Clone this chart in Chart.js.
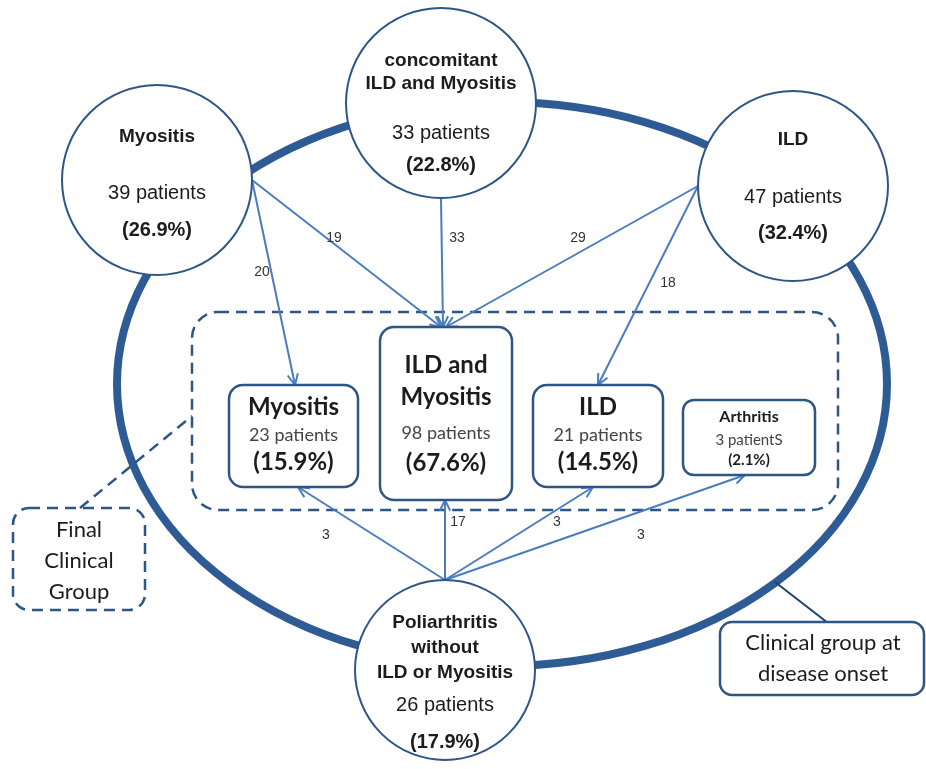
<!DOCTYPE html>
<html>
<head>
<meta charset="utf-8">
<script src="https://cdn.jsdelivr.net/npm/chart.js@4.4.1/dist/chart.umd.min.js"></script>
<style>
  html, body { margin: 0; padding: 0; background: #fff; }
  #wrap { width: 926px; height: 769px; }
</style>
</head>
<body>
<div id="wrap"><canvas id="myChart"></canvas></div>
<script>
// Clinical group at disease onset (circles)
const onsetGroups = ['Myositis', 'concomitant\nILD and Myositis', 'ILD', 'Poliarthritis\nwithout\nILD or Myositis'];
const onsetPatients = [39, 33, 47, 26];
const onsetPct = [26.9, 22.8, 32.4, 17.9];

// Final clinical group (boxes)
const finalGroups = ['Myositis', 'ILD and\nMyositis', 'ILD', 'Arthritis'];
const finalPatientLabels = ['23 patients', '98 patients', '21 patients', '3 patientS'];
const finalPct = [15.9, 67.6, 14.5, 2.1];

// Flows: onset group index -> final group index, number of patients
const flowFrom  = [0, 0, 1, 2, 2, 3, 3, 3, 3];
const flowTo    = [0, 1, 1, 1, 2, 0, 1, 2, 3];
const flowCount = [20, 19, 33, 29, 18, 3, 17, 3, 3];

const legendFinal = 'Final\nClinical\nGroup';
const legendOnset = 'Clinical group at\ndisease onset';

// ---- layout (in axis units, x 0..926, y 0..769 top-down) ----
const circleX = [157, 441, 793, 445];
const circleY = [180, 103, 186, 670];
const circleR = [95, 95, 95, 90];
const circleAnchor = ['right', 'bottom', 'left', 'top'];
const circleTextY = [[137, 193, 230], [61, 84, 133, 165], [140, 197, 233], [623, 648, 673, 705, 742]];

const boxRect = [[229, 385, 358, 487], [380, 327, 512, 500], [533, 385, 663, 487], [683, 400, 815, 475]];
const boxTextY = [[407, 435, 462], [365, 397, 433, 463], [407, 435, 462], [417, 440, 460]];

const flowLabelX = [262, 334, 457, 578, 668, 326, 458, 557, 641];
const flowLabelY = [272, 238, 238, 238, 283, 535, 522, 522, 535];
const flowEndX = [295, 441, 443, 446, 598, 298, 445, 593, 745];

const COL_DARK = '#2d5687';
const COL_ARROW = '#4a7cc0';
const COL_TEXT = '#1c1c1c';
const ARIAL = '"Liberation Sans", Arial, sans-serif';

function roundRect(ctx, x1, y1, x2, y2, r) {
    ctx.beginPath();
    ctx.moveTo(x1 + r, y1);
    ctx.arcTo(x2, y1, x2, y2, r);
    ctx.arcTo(x2, y2, x1, y2, r);
    ctx.arcTo(x1, y2, x1, y1, r);
    ctx.arcTo(x1, y1, x2, y1, r);
    ctx.closePath();
}

function anchorPoint(i) {
    const a = circleAnchor[i];
    if (a === 'right') return [circleX[i] + circleR[i], circleY[i]];
    if (a === 'left') return [circleX[i] - circleR[i], circleY[i]];
    if (a === 'bottom') return [circleX[i], circleY[i] + circleR[i]];
    return [circleX[i], circleY[i] - circleR[i]];
}

const diagram = {
    id: 'diagram',
    beforeDatasetsDraw(chart) {
        const { ctx, scales: { x, y } } = chart;
        const px = v => x.getPixelForValue(v);
        const py = v => y.getPixelForValue(v);
        ctx.save();

        // big onset ellipse
        ctx.strokeStyle = '#2f5b94';
        ctx.lineWidth = 8;
        ctx.beginPath();
        ctx.ellipse(px(502), py(384), px(887) - px(502), py(666) - py(384), 0, 0, Math.PI * 2);
        ctx.stroke();

        // connector for onset legend
        ctx.strokeStyle = '#1f3f6e';
        ctx.lineWidth = 2;
        ctx.beginPath();
        ctx.moveTo(px(775), py(582));
        ctx.lineTo(px(828), py(623));
        ctx.stroke();

        // dashed final-group frame + connector
        ctx.strokeStyle = COL_DARK;
        ctx.lineWidth = 2.5;
        ctx.setLineDash([11, 7]);
        roundRect(ctx, px(192), py(312), px(838), py(510), 26);
        ctx.stroke();
        ctx.beginPath();
        ctx.moveTo(px(80), py(508));
        ctx.lineTo(px(192), py(416));
        ctx.stroke();
        roundRect(ctx, px(13), py(508), px(145), py(610), 16);
        ctx.stroke();
        ctx.setLineDash([]);

        // flow arrows
        ctx.strokeStyle = COL_ARROW;
        ctx.lineWidth = 2;
        flowCount.forEach((n, k) => {
            const [sx, sy] = anchorPoint(flowFrom[k]);
            const b = boxRect[flowTo[k]];
            const ex = flowEndX[k];
            const ey = sy < b[1] ? b[1] : b[3];
            const x0 = px(sx), y0 = py(sy), x1 = px(ex), y1 = py(ey);
            ctx.beginPath();
            ctx.moveTo(x0, y0);
            ctx.lineTo(x1, y1);
            ctx.stroke();
            const ang = Math.atan2(y1 - y0, x1 - x0);
            const L = 12, w = 0.45;
            ctx.beginPath();
            ctx.moveTo(x1 - L * Math.cos(ang - w), y1 - L * Math.sin(ang - w));
            ctx.lineTo(x1, y1);
            ctx.lineTo(x1 - L * Math.cos(ang + w), y1 - L * Math.sin(ang + w));
            ctx.stroke();
        });

        // flow counts
        ctx.fillStyle = '#333';
        ctx.font = '14px ' + ARIAL;
        ctx.textAlign = 'center';
        ctx.textBaseline = 'middle';
        flowCount.forEach((n, k) => ctx.fillText(String(n), px(flowLabelX[k]), py(flowLabelY[k])));
        ctx.restore();
    },
    afterDatasetsDraw(chart) {
        const { ctx, scales: { x, y } } = chart;
        const px = v => x.getPixelForValue(v);
        const py = v => y.getPixelForValue(v);
        ctx.save();
        ctx.textAlign = 'center';
        ctx.textBaseline = 'middle';

        // circle texts
        onsetGroups.forEach((g, i) => {
            const lines = g.split('\n');
            const ys = circleTextY[i];
            ctx.fillStyle = COL_TEXT;
            ctx.font = 'bold 19px ' + ARIAL;
            lines.forEach((t, j) => ctx.fillText(t, px(circleX[i]), py(ys[j])));
            ctx.font = '20px ' + ARIAL;
            ctx.fillText(onsetPatients[i] + ' patients', px(circleX[i]), py(ys[lines.length]));
            ctx.font = 'bold 20px ' + ARIAL;
            ctx.fillText('(' + onsetPct[i].toFixed(1) + '%)', px(circleX[i]), py(ys[lines.length + 1]));
        });

        // final group boxes
        finalGroups.forEach((g, i) => {
            const b = boxRect[i];
            const small = i === 3;
            ctx.fillStyle = '#fff';
            ctx.strokeStyle = COL_DARK;
            ctx.lineWidth = 2.5;
            roundRect(ctx, px(b[0]), py(b[1]), px(b[2]), py(b[3]), small ? 11 : 14);
            ctx.fill();
            ctx.stroke();
            const cx = px((b[0] + b[2]) / 2);
            const ys = boxTextY[i];
            const lines = g.split('\n');
            ctx.fillStyle = COL_TEXT;
            ctx.font = small ? 'bold 16px Lato, sans-serif' : 'bold 24px Lato, sans-serif';
            lines.forEach((t, j) => ctx.fillText(t, cx, py(ys[j])));
            ctx.fillStyle = '#444';
            ctx.font = small ? '15px Lato, sans-serif' : '18px Lato, sans-serif';
            ctx.fillText(finalPatientLabels[i], cx, py(ys[lines.length]));
            ctx.fillStyle = COL_TEXT;
            ctx.font = small ? 'bold 15px Lato, sans-serif' : 'bold 24px Lato, sans-serif';
            ctx.fillText('(' + finalPct[i].toFixed(1) + '%)', cx, py(ys[lines.length + 1]));
        });

        // legend boxes
        ctx.fillStyle = '#fff';
        ctx.strokeStyle = COL_DARK;
        ctx.lineWidth = 2.5;
        roundRect(ctx, px(720), py(622), px(924), py(695), 12);
        ctx.fill();
        ctx.stroke();

        ctx.fillStyle = COL_TEXT;
        ctx.font = '22px Lato, sans-serif';
        legendFinal.split('\n').forEach((t, j) => ctx.fillText(t, px(79), py(530 + j * 31)));
        legendOnset.split('\n').forEach((t, j) => ctx.fillText(t, px(823), py(643 + j * 31)));
        ctx.restore();
    }
};

const ctx = document.getElementById('myChart');

const myChart = new Chart(ctx, {
    type: 'bubble',
    data: {
        datasets: [{
            label: 'Clinical group at disease onset',
            data: onsetGroups.map((g, i) => ({ x: circleX[i], y: circleY[i], r: circleR[i] })),
            backgroundColor: '#ffffff',
            borderColor: COL_DARK,
            borderWidth: 2,
            hoverRadius: 0,
            clip: false
        }]
    },
    options: {
        responsive: true,
        maintainAspectRatio: false,
        animation: false,
        events: [],
        layout: { padding: 0, autoPadding: false },
        scales: {
            x: { type: 'linear', min: 0, max: 926, display: false },
            y: { type: 'linear', min: 0, max: 769, reverse: true, display: false }
        },
        plugins: {
            legend: { display: false },
            tooltip: { enabled: false }
        }
    },
    plugins: [diagram]
});
</script>
</body>
</html>
